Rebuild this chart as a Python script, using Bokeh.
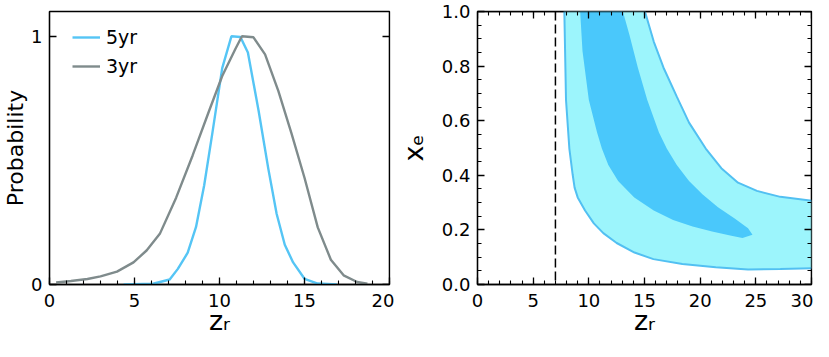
from bokeh.plotting import figure
from bokeh.layouts import row
from bokeh.models import (Range1d, LinearAxis, FixedTicker, SingleIntervalTicker,
                          PrintfTickFormatter, Span, Legend, LegendItem,
                          CustomJSTickFormatter)
from bokeh.embed import file_html
from bokeh.resources import INLINE

# ---------------- data ----------------
# left panel: marginal probability of z_r
z_3yr = [0.39, 1.26, 2.23, 3.0, 3.97, 4.94, 5.71, 6.49, 7.45, 8.42, 9.39, 10.16,
         10.94, 11.32, 12.0, 12.68, 13.46, 14.23, 15.0, 15.78, 16.55, 17.3, 18.1, 18.7]
p_3yr = [0.008, 0.014, 0.022, 0.033, 0.052, 0.089, 0.137, 0.204, 0.35, 0.52, 0.70, 0.84,
         0.95, 1.0, 0.996, 0.927, 0.78, 0.61, 0.43, 0.23, 0.10, 0.037, 0.01, 0.003]
z_5yr = [4.36, 6.1, 7.07, 7.55, 8.13, 8.62, 9.1, 9.58, 10.16, 10.7, 11.23, 11.67,
         12.3, 12.87, 13.36, 13.84, 14.33, 15.0, 15.78, 16.9]
p_5yr = [0.0, 0.003, 0.02, 0.063, 0.128, 0.232, 0.40, 0.61, 0.872, 1.0, 0.997, 0.935,
         0.70, 0.467, 0.285, 0.16, 0.089, 0.023, 0.004, 0.0]
series_labels = ["5yr", "3yr"]
x_label = "z\u1d63"      # z_r
y_label_left = "Probability"
y_label_right = "x\u2091"  # x_e
left_xrange = (0, 20)
left_yrange = (0, 1.1)
left_yticks = [0, 1]
right_xrange = (0, 30)
right_yrange = (0, 1.0)

# right panel: 68% / 95% contours in (z_r, x_e)
outer_z = [7.8, 7.8, 7.95, 8.25, 8.55, 8.72, 9.0, 9.66, 10.45, 11.3, 12.5, 14.1, 15.8,
           18.4, 21.4, 24.3, 27.2, 30.5,
           30.5, 27.2, 25.1, 23.4, 21.9, 20.5, 19.0, 17.9, 16.7, 15.83, 15.04, 14.95]
outer_x = [1.02, 1.0, 0.676, 0.498, 0.402, 0.355, 0.319, 0.271, 0.224, 0.188, 0.152,
           0.117, 0.093, 0.075, 0.063, 0.055, 0.057, 0.06,
           0.305, 0.321, 0.343, 0.373, 0.426, 0.498, 0.593, 0.688, 0.795, 0.89, 1.0, 1.02]
inner_z = [9.22, 9.22, 9.43, 10.0, 10.74, 11.17, 11.75, 12.63, 14.08, 15.83, 17.57,
           19.32, 21.07, 22.8, 23.8, 24.7, 24.3, 23.1, 21.6, 20.2, 19.0, 17.9, 17.0,
           16.3, 15.25, 14.4, 13.65, 13.06, 13.06]
inner_x = [1.02, 1.0, 0.855, 0.676, 0.557, 0.498, 0.438, 0.379, 0.319, 0.271, 0.236,
           0.212, 0.194, 0.179, 0.170, 0.182, 0.206, 0.242, 0.283, 0.331, 0.379, 0.438,
           0.498, 0.557, 0.676, 0.795, 0.914, 1.0, 1.02]
z_limit = 7.0

FONT = "DejaVu Sans"
BLUE = "#55c5f5"
GRAY = "#7f8b8c"
FIG_H = 341


def style_axes(p, xticker, yticker, xr, yr, yfmt=None, top=True):
    xb, yl = p.below[0], p.left[0]
    for ax in (xb, yl):
        ax.major_tick_in = 7
        ax.major_tick_out = 0
        ax.minor_tick_in = 4
        ax.minor_tick_out = 0
        ax.axis_line_width = 1.3
        ax.major_tick_line_width = 1.3
        ax.minor_tick_line_width = 1.1
        ax.major_label_text_font = FONT
        ax.major_label_text_font_size = "18px"
        ax.major_label_text_color = "black"
        ax.axis_label_text_font = FONT
        ax.axis_label_text_font_style = "normal"
        ax.axis_label_text_color = "black"
    xb.ticker = xticker
    yl.ticker = yticker
    xb.major_label_standoff = 9
    yl.major_label_standoff = 7
    if yfmt is not None:
        yl.formatter = yfmt
    # mirrored tick marks on the opposite frame edges (no labels, no extra space)
    extra = [("right", yticker, xr[1])]
    if top:
        extra.append(("above", xticker, yr[1]))
    for side, tk, loc in extra:
        ax = LinearAxis(ticker=tk, formatter=CustomJSTickFormatter(code="return ''"),
                        fixed_location=loc, major_label_standoff=0,
                        major_tick_in=7, major_tick_out=0,
                        minor_tick_in=4, minor_tick_out=0, axis_line_width=1.3,
                        major_tick_line_width=1.3, minor_tick_line_width=1.1)
        p.add_layout(ax, side)
    p.outline_line_color = "black"
    p.outline_line_width = 1.3
    p.xgrid.visible = False
    p.ygrid.visible = False
    return xb, yl


# ---------------- left figure ----------------
p1 = figure(width=394, height=FIG_H, output_backend="svg", toolbar_location=None,
            x_range=Range1d(*left_xrange), y_range=Range1d(*left_yrange),
            min_border_left=45, min_border_right=5, min_border_top=11, min_border_bottom=57)
xb1, yl1 = style_axes(p1, SingleIntervalTicker(interval=5, num_minor_ticks=5),
                      FixedTicker(ticks=left_yticks, minor_ticks=[]),
                      left_xrange, left_yrange, top=False)
yl1.axis_label = y_label_left
yl1.axis_label_text_font_size = "22px"
yl1.axis_label_standoff = 0
xb1.axis_label = x_label
xb1.axis_label_text_font_size = "27px"
xb1.axis_label_standoff = -5

r5 = p1.line(z_5yr, p_5yr, line_color=BLUE, line_width=2.4)
r3 = p1.line(z_3yr, p_3yr, line_color=GRAY, line_width=2.4)
leg = Legend(items=[LegendItem(label=series_labels[0], renderers=[r5]),
                    LegendItem(label=series_labels[1], renderers=[r3])],
             location=(23, 207), border_line_alpha=0, background_fill_alpha=0,
             label_text_font=FONT, label_text_font_size="19px", label_text_color="black",
             glyph_width=28, glyph_height=20, label_height=20, spacing=7, padding=0,
             margin=0, label_standoff=6)
p1.add_layout(leg)

# ---------------- right figure ----------------
p2 = figure(width=419, height=FIG_H, output_backend="svg", toolbar_location=None,
            x_range=Range1d(*right_xrange), y_range=Range1d(*right_yrange),
            min_border_left=78, min_border_right=2, min_border_top=11, min_border_bottom=57)
xb2, yl2 = style_axes(p2, SingleIntervalTicker(interval=5, num_minor_ticks=5),
                      SingleIntervalTicker(interval=0.2, num_minor_ticks=4),
                      right_xrange, right_yrange,
                      yfmt=PrintfTickFormatter(format="%.1f"))
xb2.axis_label = x_label
xb2.axis_label_text_font_size = "27px"
xb2.axis_label_standoff = -5
yl2.axis_label = y_label_right
yl2.axis_label_text_font_size = "27px"
yl2.axis_label_standoff = 10

p2.patch(outer_z, outer_x, fill_color="#9cf5fc", line_color="#52c0f2", line_width=2)
p2.patch(inner_z, inner_x, fill_color="#4ac8fb", line_color=None)
p2.add_layout(Span(location=z_limit, dimension="height", line_color="black",
                   line_width=1.5, line_dash="9 4"))

layout = row(p1, p2, spacing=0)
open("out.html", "w").write(file_html(layout, INLINE))
